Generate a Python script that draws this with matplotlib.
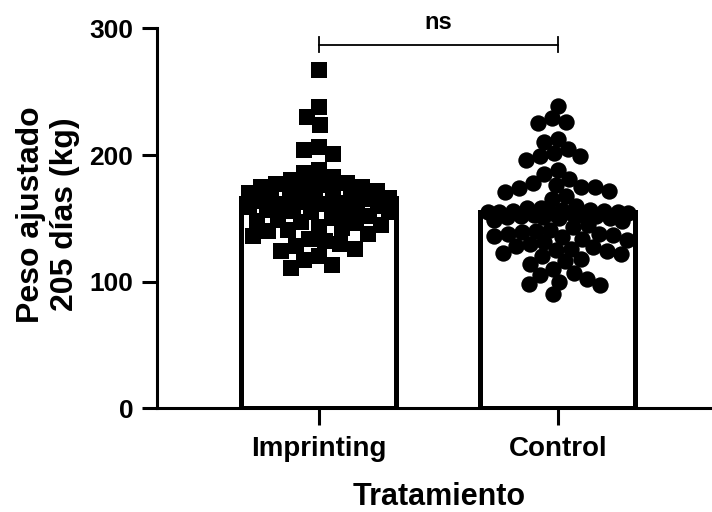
import matplotlib
matplotlib.use("Agg")
import matplotlib.pyplot as plt
import numpy as np

plt.rcParams['font.family'] = ['Liberation Sans', 'DejaVu Sans']
plt.rcParams['font.weight'] = 'bold'

categories = ["Imprinting", "Control"]
bar_means = [166, 155]

imprinting = [267, 238, 230, 224, 206, 204, 201, 188, 186, 183, 180, 178, 177, 176, 175, 175,
              173, 172, 171, 170, 168, 167, 166, 166, 165, 165, 164, 163, 162, 161, 160, 160,
              159, 158, 157, 156, 155, 155, 154, 152, 150, 149, 148, 147, 146, 145, 143, 142,
              141, 140, 138, 136, 134, 132, 130, 128, 126, 124, 120, 117, 113, 111]

control = [239, 229, 226, 225, 213, 210, 205, 202, 199, 199, 196, 188, 185, 181, 178, 176,
           175, 175, 174, 172, 171, 168, 165, 160, 158, 158, 157, 157, 156, 156, 155, 155,
           155, 154, 154, 154, 153, 153, 152, 152, 151, 151, 150, 150, 149, 148, 145, 143,
           141, 140, 139, 138, 138, 137, 136, 135, 134, 133, 131, 130, 128, 127, 126, 125,
           124, 123, 122, 120, 118, 116, 114, 110, 107, 105, 102, 100, 98, 97, 90]

sig_label = "ns"
sig_y = 287


def swarm(values, center, ax, min_dist, half_width):
    # greedy beeswarm in pixel space, squeezed inside half_width (pixels)
    fig = ax.figure
    fig.canvas.draw()
    pts = ax.transData.transform(np.column_stack([np.full(len(values), center), values]))
    cx = pts[0, 0]
    cands = np.arange(-half_width, half_width + 0.5, 1.0)
    cands = cands[np.argsort(np.abs(cands), kind="stable")]
    placed_x, placed_y = [], []
    xs = np.zeros(len(values))
    for i in np.argsort(values)[::-1]:
        y = pts[i, 1]
        if not placed_x:
            best = 0.0
        else:
            px = np.array(placed_x)
            py = np.array(placed_y)
            d = np.sqrt((cands[:, None] - px[None, :]) ** 2 + (y - py[None, :]) ** 2).min(axis=1)
            free = np.where(d >= min_dist)[0]
            best = cands[free[0]] if len(free) else cands[np.argmax(d)]
        xs[i] = cx + best
        placed_x.append(best)
        placed_y.append(y)
    inv = ax.transData.inverted()
    return inv.transform(np.column_stack([xs, pts[:, 1]]))[:, 0]


fig = plt.figure(figsize=(7.12, 5.12), dpi=100)
ax = fig.add_axes([0.2205, 0.2025, 0.777, 0.742])

x = np.arange(len(categories))
ax.bar(x, bar_means, width=0.65, color="white", edgecolor="black", linewidth=3.6, zorder=1)

ax.set_xlim(-0.676, 1.638)
ax.set_ylim(0, 300)

msize = 11.8
xs1 = swarm(imprinting, 0, ax, 15.0, 70)
xs2 = swarm(control, 1, ax, 14.0, 70)
ax.scatter(xs1, imprinting, marker="s", s=msize ** 2, color="black", linewidths=0, zorder=3, clip_on=False)
ax.scatter(xs2, control, marker="o", s=msize ** 2, color="black", linewidths=0, zorder=3, clip_on=False)

# significance bracket
ax.plot([0, 1], [sig_y, sig_y], color="black", lw=1.3, clip_on=False)
ax.plot([0, 0], [sig_y - 6, sig_y + 6], color="black", lw=1.3, clip_on=False)
ax.plot([1, 1], [sig_y - 6, sig_y + 6], color="black", lw=1.3, clip_on=False)
ax.text(0.5, 305, sig_label, ha="center", va="center", fontsize=17, fontweight="bold")

ax.spines["top"].set_visible(False)
ax.spines["right"].set_visible(False)
ax.spines["left"].set_linewidth(2.2)
ax.spines["bottom"].set_linewidth(2.2)

ax.set_yticks([0, 100, 200, 300])
ax.set_xticks(x)
ax.set_xticklabels(categories)
ax.tick_params(axis="y", length=11, width=2.2, labelsize=19, pad=6)
ax.tick_params(axis="x", length=12, width=2.2, labelsize=20, pad=8)

ax.set_ylabel("Peso ajustado\n205 días (kg)", fontsize=23, fontweight="bold", linespacing=1.2)
ax.yaxis.set_label_coords(-0.197, 0.51)
ax.yaxis.label.set_va("center")
ax.set_xlabel("Tratamiento", fontsize=22, fontweight="bold")
ax.xaxis.set_label_coords(0.51, -0.233)
ax.xaxis.label.set_va("center")

fig.savefig("out.png", dpi=100)
